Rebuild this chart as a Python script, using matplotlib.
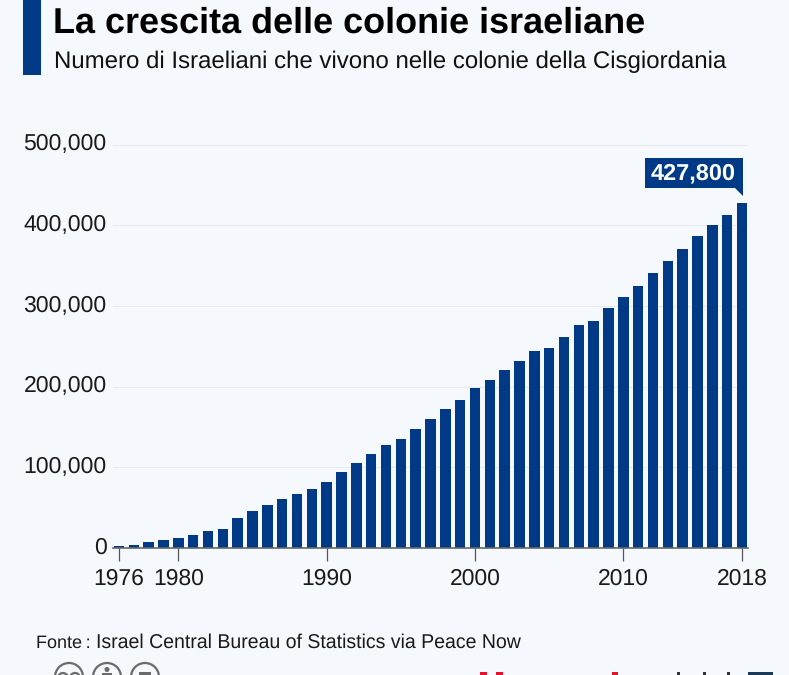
import matplotlib
matplotlib.use('Agg')
import matplotlib.pyplot as plt
from matplotlib.patches import Rectangle, Polygon, Circle
from matplotlib.ticker import FuncFormatter

years = list(range(1976, 2019))
settlers = [2900, 4100, 7400, 9900, 12400, 16100, 21500, 23500, 36800, 45800,
            53300, 60300, 66500, 72700, 81800, 94200, 105300, 116500, 127600, 134600,
            147000, 160200, 172200, 183800, 198700, 208100, 220100, 231700, 244100, 247400,
            261400, 276000, 281000, 297000, 311000, 325000, 341000, 356000, 370000, 386000,
            400000, 413000, 427800]
year_ticks = [1976, 1980, 1990, 2000, 2010, 2018]
value_ticks = [0, 100000, 200000, 300000, 400000, 500000]

title = 'La crescita delle colonie israeliane'
subtitle = 'Numero di Israeliani che vivono nelle colonie della Cisgiordania'
source_label = 'Fonte\u2009:'
source = 'Israel Central Bureau of Statistics via Peace Now'

BG = '#f5f8fc'
BLUE = '#003a87'
GREY = '#6b6b6b'
W, H = 789, 675

plt.rcParams['font.family'] = ['Liberation Sans', 'DejaVu Sans']
plt.rcParams['text.hinting'] = 'no_hinting'
plt.rcParams['text.hinting_factor'] = 8

fig = plt.figure(figsize=(W / 100, H / 100), dpi=100, facecolor=BG)
ax = fig.add_axes([113 / W, 1 - 548 / H, (748 - 113) / W, (548 - 144.5) / H])
ax.set_facecolor('none')

ax.bar(years, settlers, width=0.71, color=BLUE, zorder=3)

ax.set_xlim(1975.6, 2018.4)
ax.set_ylim(0, 500000)
ax.set_xticks(year_ticks)
ax.set_yticks(value_ticks)
ax.yaxis.set_major_formatter(FuncFormatter(lambda v, p: f'{int(v):,}'))
ax.grid(axis='y', color='#e6e9ee', lw=0.7, zorder=0)
ax.tick_params(axis='x', length=9, width=0.9, color='#555555', labelsize=16.5,
               pad=5.5, labelcolor='#1a1a1a')
ax.tick_params(axis='y', length=0, labelsize=16.6, pad=4.5, labelcolor='#1a1a1a')
for lab in ax.get_yticklabels():
    lab.set_verticalalignment('center')
for s in ['top', 'right', 'left']:
    ax.spines[s].set_visible(False)
ax.spines['bottom'].set_color('#666666')
ax.spines['bottom'].set_linewidth(1.2)
ax.spines['bottom'].set_zorder(4)

# callout over the last bar, placed relative to the bar top
tx, ty = ax.transData.transform((years[-1], settlers[-1]))
fig.add_artist(Rectangle((tx - 97, ty + 15), 98, 30, transform=None, fc=BLUE, ec='none', zorder=-1))
fig.add_artist(Polygon([(tx + 1, ty + 7), (tx + 1, ty + 15), (tx - 7, ty + 15)], closed=True,
                       fc=BLUE, ec='none', transform=None, zorder=-1))
ax.annotate(f'{settlers[-1]:,}', xy=(years[-1], settlers[-1]), xytext=(-48.5, 32),
            textcoords='offset pixels', ha='center', va='center_baseline', color='white',
            fontsize=16.9, fontweight='bold', zorder=6, annotation_clip=False)

# header
fig.add_artist(Rectangle((23 / W, 1 - 75 / H), 18 / W, 75 / H, transform=fig.transFigure,
                         fc=BLUE, ec='none'))
fig.text(53 / W, 1 - 33 / H, title, fontsize=25.9, fontweight='bold', color='black')
fig.text(54.5 / W, 1 - 68 / H, subtitle, fontsize=17.3, color='#111111')
fig.text(35.5 / W, 1 - 648 / H, source_label, fontsize=13, color='#1a1a1a')
fig.text(95.5 / W, 1 - 648 / H, source, fontsize=14.05, color='#1a1a1a')

# cc icons, cut by the bottom edge
for cx in [69, 107, 145]:
    fig.add_artist(Circle((cx, -2), 14, transform=None, fc='none', ec=GREY, lw=1.6))
for cx in [63, 75]:
    fig.add_artist(Circle((cx, -3), 5, transform=None, fc='none', ec=GREY, lw=1.6))
fig.add_artist(Circle((107, 5.5), 2.5, transform=None, fc=GREY, ec='none'))
fig.add_artist(Rectangle((102, 0), 10, 2, transform=None, fc=GREY, ec='none'))
fig.add_artist(Rectangle((139, 0), 12, 3, transform=None, fc=GREY, ec='none'))

# logo at the bottom right, only its top edge is left in the picture
for x0, w, col in [(480, 7, '#e8112d'), (496, 7, '#e8112d'), (612, 6, '#e8112d'),
                   (677, 3, '#333333'), (703, 3, '#333333'), (727, 3, '#333333'),
                   (748, 25, '#1c3a57')]:
    fig.add_artist(Rectangle((x0, 0), w, 3, transform=None, fc=col, ec='none'))

fig.savefig('out.png', dpi=100, facecolor=BG)
